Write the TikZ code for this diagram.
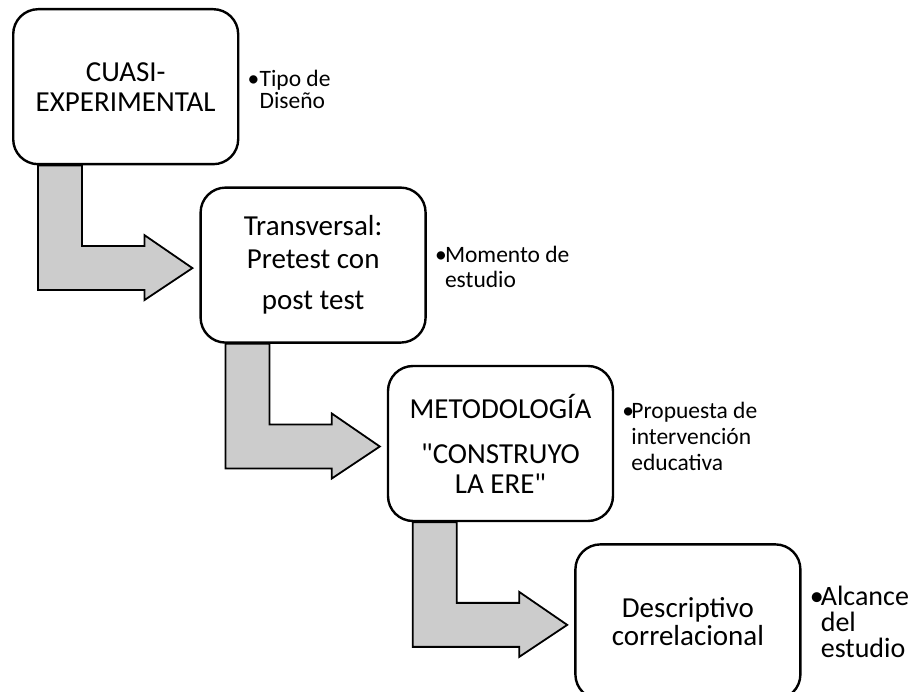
\documentclass[tikz,border=0pt]{standalone}
\usepackage{fontspec}
\setmainfont{Carlito}
\usepackage{tikz}
\usetikzlibrary{positioning, calc}

\begin{document}
\begin{tikzpicture}[x=1pt, y=-1pt,
    box/.style={rectangle, draw, line width=2.4pt, rounded corners=25pt, fill=white,
    minimum width=225pt, minimum height=155pt, align=center, inner sep=0pt,
    font=\fontsize{29}{30}\selectfont},
    note/.style={align=left, inner sep=0pt, anchor=west,
    font=\fontsize{23.5}{25}\selectfont},
    bentarrow/.style={draw, line width=1.8pt, fill=black!20, line join=miter}
]
\useasboundingbox (0,0) rectangle (914,692);

\node[box, anchor=north west] (design) at (12,8) {CUASI-\\EXPERIMENTAL};
\node[box, below right=21pt and -40pt of design] (moment) {Transversal:\\[3pt]Pretest con\\[11pt]post test};
\node[box, below right=21pt and -40pt of moment] (method) {METODOLOGÍA\\[15pt]\textquotedbl CONSTRUYO\\LA ERE\textquotedbl};
\node[box, below right=21pt and -40pt of method] (scope) {Descriptivo\\[-2pt]correlacional};

\node[note, right=8pt of design, yshift=-3pt, font=\fontsize{23.5}{22}\selectfont] (designnote)
    {\makebox[12pt][l]{\textbullet}Tipo de\\\hspace*{12pt}Diseño};
\node[note, right=8pt of moment, yshift=-2pt] (momentnote)
    {\makebox[10pt][l]{\textbullet}Momento de\\\hspace*{10pt}estudio};
\node[note, right=8pt of method, yshift=7pt, font=\fontsize{23.5}{26}\selectfont] (methodnote)
    {\makebox[9pt][l]{\textbullet}Propuesta de\\\hspace*{9pt}intervención\\\hspace*{9pt}educativa};
\node[note, right=8pt of scope, font=\fontsize{28}{26}\selectfont] (scopenote)
    {\makebox[11pt][l]{\textbullet}Alcance\\\hspace*{11pt}del\\\hspace*{11pt}estudio};

% bent block arrows between the boxes
\foreach \from/\to in {design/moment, moment/method, method/scope}
  \draw[bentarrow] let \p1=(\from.south west), \p2=(\to.west) in
    (\x1+26pt,\y1) -- (\x1+26pt,\y2-25pt) -- (\x2-55pt,\y2-25pt) -- (\x2-55pt,\y2-35pt)
    -- (\x2-7pt,\y2-3pt) -- (\x2-55pt,\y2+30pt) -- (\x2-55pt,\y2+19pt)
    -- (\x1+70pt,\y2+19pt) -- (\x1+70pt,\y1) -- cycle;

\end{tikzpicture}
\end{document}
